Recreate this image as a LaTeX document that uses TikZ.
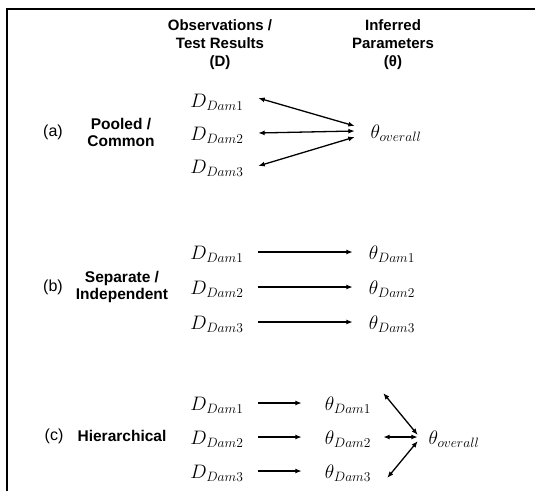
\documentclass[tikz,border=0pt]{standalone}
\usepackage[no-math]{fontspec}
\usepackage{graphicx}
\setmainfont{Liberation Sans}
\usetikzlibrary{arrows.meta}
\newcommand\mth[1]{\scalebox{1.13}{$#1$}}
\tikzset{
 mathnode/.style={inner sep=0pt, font=\fontsize{17.28}{20}\selectfont},
 hdr/.style={font=\fontsize{15}{18}\selectfont\bfseries, align=center, inner sep=0pt},
 lbl/.style={font=\fontsize{15.5}{17}\selectfont\bfseries, align=center, inner sep=0pt},
 tag/.style={font=\fontsize{16}{19}\selectfont, inner sep=0pt},
 arr/.style={line width=1.3pt, -{Latex[length=6.5pt,width=5pt]}},
 darr/.style={line width=1.3pt, {Latex[length=6.5pt,width=5pt]}-{Latex[length=6.5pt,width=5pt]}},
}
\begin{document}
\begin{tikzpicture}[x=1pt,y=-1pt]
\useasboundingbox (0,0) rectangle (535,491);
\fill[white] (0,0) rectangle (535,491);
\draw[line width=2pt] (7,491) -- (7,9) -- (535,9);

% headers
\node[hdr] (h1) at (220,45) {Observations /\\Test Results\\(D)};
\node[hdr] (h2) at (393,45) {Inferred\\Parameters\\(θ)};

% (a)
\node[tag] (ta) at (53,132) {(a)};
\node[lbl] (la) at (121,132) {Pooled /\\Common};
\node[mathnode, minimum width=82pt] (Da1) at (217,102) {\mth{D_{Dam1}}};
\node[mathnode, minimum width=82pt] (Da2) at (217,135) {\mth{D_{Dam2}}};
\node[mathnode, minimum width=82pt] (Da3) at (217,168) {\mth{D_{Dam3}}};
\node[mathnode, minimum width=82pt] (Toa) at (396,133) {\mth{\theta_{overall}}};
\draw[darr] ([yshift=4pt]Da1.east) -- ([yshift=7pt]Toa.west);
\draw[darr] ([yshift=2pt]Da2.east) -- ([yshift=2pt]Toa.west);
\draw[darr] ([yshift=2pt]Da3.east) -- ([yshift=-4pt]Toa.west);

% (b)
\node[tag] (tb) at (53,287) {(b)};
\node[lbl] (lb) at (122,287) {Separate /\\Independent};
\node[mathnode, minimum width=82pt] (Db1) at (217,254) {\mth{D_{Dam1}}};
\node[mathnode, minimum width=82pt] (Db2) at (217,289) {\mth{D_{Dam2}}};
\node[mathnode, minimum width=82pt] (Db3) at (217,324) {\mth{D_{Dam3}}};
\node[mathnode, minimum width=78pt] (Tb1) at (392,254) {\mth{\theta_{Dam1}}};
\node[mathnode, minimum width=78pt] (Tb2) at (392,289) {\mth{\theta_{Dam2}}};
\node[mathnode, minimum width=78pt] (Tb3) at (392,324) {\mth{\theta_{Dam3}}};
\draw[arr] ([yshift=2pt]Db1.east) -- ([yshift=2pt]Tb1.west);
\draw[arr] ([yshift=2pt]Db2.east) -- ([yshift=2pt]Tb2.west);
\draw[arr] ([yshift=2pt]Db3.east) -- ([yshift=2pt]Tb3.west);

% (c)
\node[tag] (tc) at (54,436) {(c)};
\node[lbl] (lc) at (122,436) {Hierarchical};
\node[mathnode, minimum width=82pt] (Dc1) at (217,405) {\mth{D_{Dam1}}};
\node[mathnode, minimum width=82pt] (Dc2) at (217,439) {\mth{D_{Dam2}}};
\node[mathnode, minimum width=82pt] (Dc3) at (217,473) {\mth{D_{Dam3}}};
\node[mathnode, minimum width=92pt] (Tc1) at (348,405) {\mth{\theta_{Dam1}}};
\node[mathnode, minimum width=92pt] (Tc2) at (348,439) {\mth{\theta_{Dam2}}};
\node[mathnode, minimum width=92pt] (Tc3) at (348,473) {\mth{\theta_{Dam3}}};
\node[mathnode, minimum width=72pt] (Toc) at (454,439) {\mth{\theta_{overall}}};
\draw[arr] ([yshift=2pt]Dc1.east) -- ([yshift=2pt]Tc1.west);
\draw[arr] ([yshift=2pt]Dc2.east) -- ([yshift=2pt]Tc2.west);
\draw[arr] ([yshift=2pt]Dc3.east) -- ([yshift=2pt]Tc3.west);
\draw[darr] ([xshift=-11pt,yshift=12pt]Tc1.east) -- ([yshift=4pt]Toc.west);
\draw[darr] ([xshift=-11pt,yshift=2pt]Tc2.east) -- ([yshift=2pt]Toc.west);
\draw[darr] ([xshift=-7pt,yshift=-5pt]Tc3.east) -- ([yshift=-2pt]Toc.west);
\end{tikzpicture}
\end{document}
